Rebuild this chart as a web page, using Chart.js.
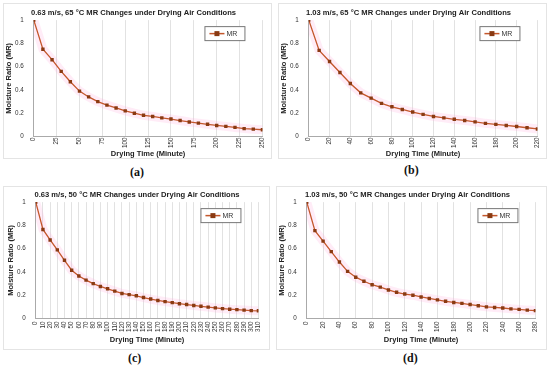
<!DOCTYPE html>
<html>
<head>
<meta charset="utf-8">
<script src="https://cdn.jsdelivr.net/npm/chart.js@4.4.1/dist/chart.umd.min.js"></script>
<style>
  body { margin: 0; background: #fff; width: 550px; height: 368px; position: relative; overflow: hidden; }
  .panel { position: absolute; border: 1px solid #e4e4e4; box-sizing: border-box; }
  .panel canvas { display: block; }
  .tag { position: absolute; font-family: "Liberation Serif", "DejaVu Serif", serif; font-weight: bold; font-size: 12px; color: #111; }
</style>
</head>
<body>
<div class="panel" id="box-a" style="left:3px;top:3px;width:269px;height:156px"><canvas id="a-chart"></canvas></div>
<div class="panel" id="box-b" style="left:278px;top:3px;width:269px;height:156px"><canvas id="b-chart"></canvas></div>
<div class="panel" id="box-c" style="left:3px;top:186px;width:267px;height:164px"><canvas id="c-chart"></canvas></div>
<div class="panel" id="box-d" style="left:276px;top:186px;width:271px;height:164px"><canvas id="d-chart"></canvas></div>
<div class="tag" style="left:130px;top:165px">(a)</div>
<div class="tag" style="left:404px;top:163px">(b)</div>
<div class="tag" style="left:128px;top:351px">(c)</div>
<div class="tag" style="left:403px;top:351px">(d)</div>
<script>
// drying time (minutes) and moisture ratio for each condition
const timeA = [0,10,20,30,40,50,60,70,80,90,100,110,120,130,140,150,160,170,180,190,200,210,220,230,240,250];
const mrA = [1,0.75,0.66,0.56,0.47,0.39,0.34,0.30,0.27,0.245,0.22,0.20,0.182,0.172,0.16,0.15,0.137,0.125,0.115,0.105,0.095,0.087,0.078,0.068,0.063,0.058];

const timeB = [0,10,20,30,40,50,60,70,80,90,100,110,120,130,140,150,160,170,180,190,200,210,220];
const mrB = [1,0.74,0.645,0.55,0.455,0.375,0.33,0.285,0.255,0.232,0.21,0.19,0.172,0.16,0.148,0.138,0.126,0.113,0.104,0.095,0.086,0.075,0.065];

const timeC = [0,10,20,30,40,50,60,70,80,90,100,110,120,130,140,150,160,170,180,190,200,210,220,230,240,250,260,270,280,290,300,310];
const mrC = [1,0.765,0.675,0.59,0.50,0.415,0.365,0.33,0.30,0.275,0.255,0.235,0.215,0.205,0.195,0.18,0.167,0.155,0.145,0.136,0.127,0.12,0.112,0.105,0.098,0.091,0.085,0.08,0.076,0.072,0.068,0.066];

const timeD = [0,10,20,30,40,50,60,70,80,90,100,110,120,130,140,150,160,170,180,190,200,210,220,230,240,250,260,270,280];
const mrD = [1,0.755,0.665,0.575,0.485,0.405,0.355,0.32,0.29,0.27,0.245,0.225,0.21,0.2,0.185,0.172,0.16,0.148,0.138,0.13,0.12,0.11,0.1,0.095,0.09,0.083,0.078,0.072,0.068];

const titles = {
    a: "0.63 m/s, 65 \u00B0C MR Changes under Drying Air Conditions",
    b: "1.03 m/s, 65 \u00B0C MR Changes under Drying Air Conditions",
    c: "0.63 m/s, 50 \u00B0C MR Changes under Drying Air Conditions",
    d: "1.03 m/s, 50 \u00B0C MR Changes under Drying Air Conditions",
};

const FONT = "'Liberation Sans', Arial, sans-serif";
const LINE = "#c4572c";
const MARK = "#8a3a12";

// legend box drawn inside the plot area, top right
const boxLegend = {
    id: 'boxLegend',
    afterDraw(chart) {
        const { ctx, chartArea } = chart;
        const w = 40, h = 14;
        const x = chartArea.right - w - 18, y = chartArea.top + 6;
        ctx.save();
        ctx.fillStyle = '#fff';
        ctx.fillRect(x, y, w, h);
        ctx.strokeStyle = '#777';
        ctx.lineWidth = 1;
        ctx.strokeRect(x + 0.5, y + 0.5, w, h);
        ctx.strokeStyle = LINE;
        ctx.lineWidth = 1.5;
        ctx.beginPath();
        ctx.moveTo(x + 5, y + h / 2 + 0.5);
        ctx.lineTo(x + 20, y + h / 2 + 0.5);
        ctx.stroke();
        ctx.fillStyle = MARK;
        ctx.fillRect(x + 10, y + h / 2 - 2, 5, 5);
        ctx.fillStyle = '#333';
        ctx.font = `7px ${FONT}`;
        ctx.textBaseline = 'middle';
        ctx.fillText('MR', x + 22, y + h / 2 + 1);
        ctx.restore();
    }
};

function createChart(id, times, mr, maxX, step, pad, tickGap) {
    const ctx = document.getElementById(`${id}-chart`).getContext('2d');
    const pts = times.map((t, i) => ({ x: t, y: mr[i] }));
    return new Chart(ctx, {
        type: 'line',
        data: {
            datasets: [
                {
                    label: "MR",
                    data: pts,
                    borderColor: LINE,
                    borderWidth: 1.3,
                    pointStyle: 'rect',
                    pointRadius: 2.4,
                    pointBackgroundColor: MARK,
                    pointBorderColor: MARK,
                    pointBorderWidth: 0,
                    tension: 0,
                    fill: false,
                },
                {
                    label: "glow",
                    data: pts,
                    borderColor: "rgba(255,170,220,0.22)",
                    borderWidth: 9,
                    pointRadius: 0,
                    tension: 0,
                    fill: false,
                },
            ]
        },
        options: {
            responsive: true,
            maintainAspectRatio: false,
            animation: false,
            layout: { padding: pad },
            plugins: {
                legend: { display: false },
                tooltip: { enabled: false },
                title: {
                    display: true,
                    text: titles[id],
                    color: '#222',
                    font: { family: FONT, size: 7.6, weight: 'bold' },
                    padding: { top: 0, bottom: 3 },
                },
            },
            scales: {
                x: {
                    type: 'linear',
                    min: 0,
                    max: maxX,
                    grid: { color: '#e2e2e2', drawTicks: false },
                    border: { color: '#aaa' },
                    ticks: {
                        stepSize: step,
                        autoSkip: false,
                        minRotation: 90,
                        maxRotation: 90,
                        padding: tickGap,
                        color: '#333',
                        font: { family: FONT, size: 6.3 },
                    },
                    title: {
                        display: true,
                        text: 'Drying Time (Minute)',
                        color: '#222',
                        font: { family: FONT, size: 7.5, weight: 'bold' },
                        padding: { top: 0, bottom: 0 },
                    },
                },
                y: {
                    min: 0,
                    max: 1,
                    grid: { display: false },
                    border: { color: '#aaa' },
                    ticks: {
                        stepSize: 0.2,
                        padding: 2,
                        color: '#333',
                        font: { family: FONT, size: 6.3 },
                        callback: v => String(+v.toFixed(1)),
                    },
                    title: {
                        display: true,
                        text: 'Moisture Ratio (MR)',
                        color: '#222',
                        font: { family: FONT, size: 7.5, weight: 'bold' },
                        padding: { top: 0, bottom: 0 },
                    },
                },
            },
        },
        plugins: [boxLegend],
    });
}

createChart('a', timeA, mrA, 250, 25, { left: 0, right: 8, top: 4, bottom: 0 }, 1);
createChart('b', timeB, mrB, 220, 20, { left: 0, right: 8, top: 4, bottom: 0 }, 1);
createChart('c', timeC, mrC, 310, 10, { left: 2, right: 1, top: 3, bottom: 5 }, 3);
createChart('d', timeD, mrD, 280, 20, { left: 0, right: 8, top: 3, bottom: 5 }, 3);
</script>
</body>
</html>
